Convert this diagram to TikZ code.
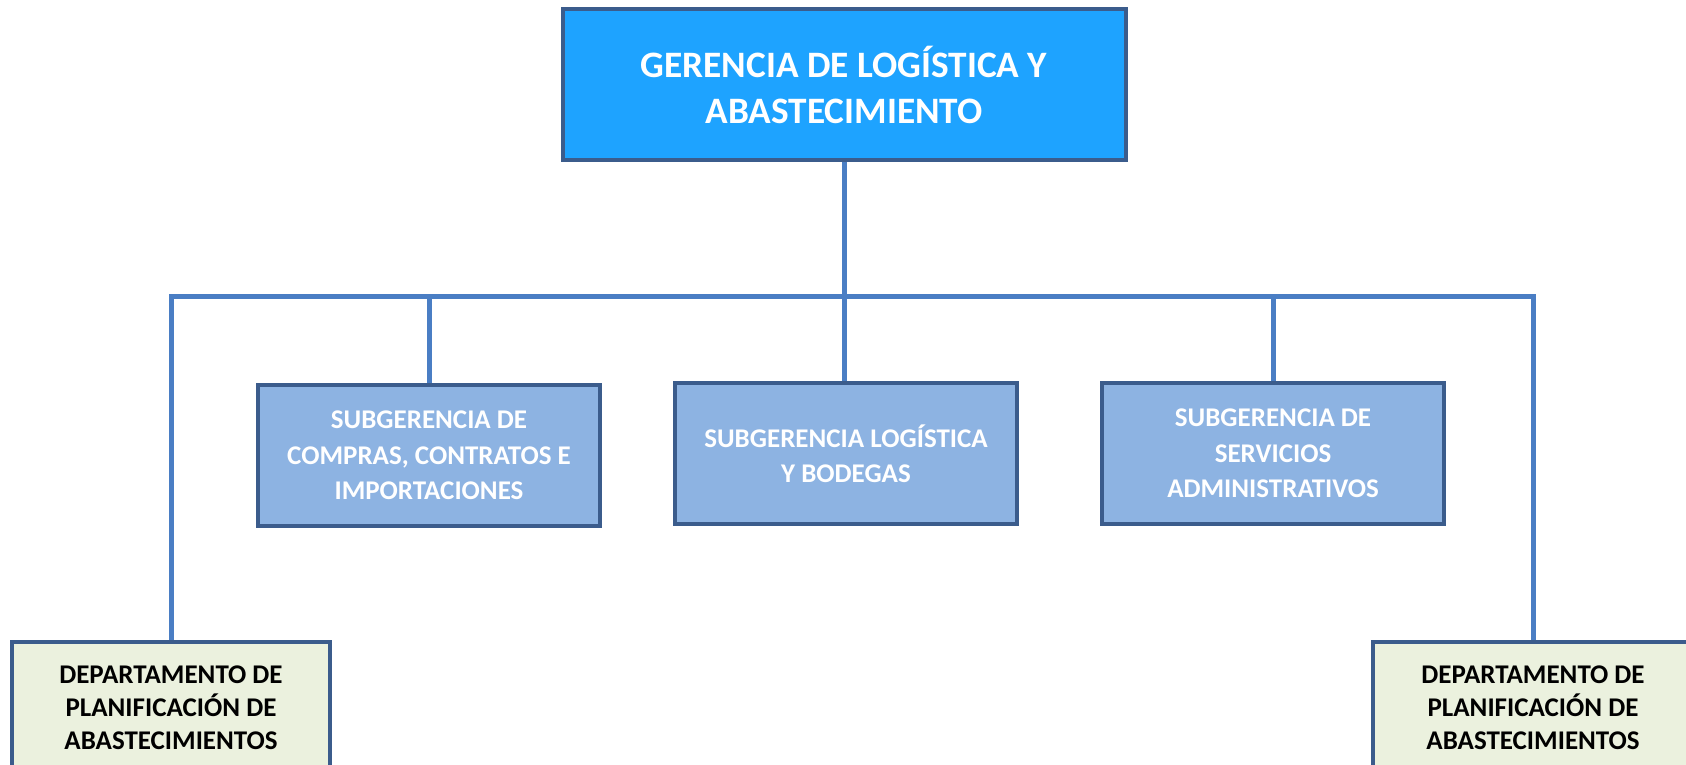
\documentclass[tikz,border=0pt]{standalone}
\usepackage{fontspec}
\setmainfont{Carlito}
\usetikzlibrary{backgrounds}

\definecolor{gerblue}{HTML}{1EA3FF}
\definecolor{subblue}{HTML}{8DB3E2}
\definecolor{depgreen}{HTML}{EBF1DE}
\definecolor{edgeblue}{HTML}{3B5C8C}
\definecolor{linkblue}{HTML}{4A7EC4}

\tikzset{
    box/.style={draw=edgeblue, line width=4pt, align=center, font=\bfseries},
    gerbox/.style={box, fill=gerblue, text=white, minimum width=563pt, minimum height=151pt,
        font=\fontsize{37.3}{46}\selectfont\bfseries},
    subbox/.style={box, fill=subblue, text=white, minimum width=342pt, minimum height=141pt,
        font=\fontsize{27}{35.5}\selectfont\bfseries},
    depbox/.style={box, fill=depgreen, text=black, minimum width=318pt, minimum height=132pt,
        font=\fontsize{27}{33}\selectfont\bfseries},
    link/.style={draw=linkblue, line width=5pt}
}

\begin{document}
\begin{tikzpicture}[x=1pt,y=-1pt]
    \useasboundingbox (0,0) rectangle (1686,765);
    \clip (0,0) rectangle (1686,765);
    % Boxes
    \node[gerbox] (ger) at (844,84.5) {GERENCIA DE LOGÍSTICA Y\\ABASTECIMIENTO};
    \node[subbox] (compras) at (429,455.5) {SUBGERENCIA DE\\COMPRAS, CONTRATOS E\\IMPORTACIONES};
    \node[subbox] (bodegas) at (846,453.5) {SUBGERENCIA LOGÍSTICA\\Y BODEGAS};
    \node[subbox] (servicios) at (1273,453.5) {SUBGERENCIA DE\\SERVICIOS\\ADMINISTRATIVOS};
    \node[depbox] (planizq) at (171,708) {DEPARTAMENTO DE\\PLANIFICACIÓN DE\\ABASTECIMIENTOS};
    \node[depbox, minimum width=320pt] (plander) at (1533,708) {DEPARTAMENTO DE\\PLANIFICACIÓN DE\\ABASTECIMIENTOS};
    % Connectors
    \coordinate (bus) at (844,296);
    \begin{pgfonlayer}{background}
        \fill[white] (0,0) rectangle (1686,765);
        \draw[link] (ger.south) -- (ger.south |- bodegas.north);
        \draw[link] (planizq.north) -- (planizq.north |- bus)
            -- (plander.north |- bus) -- (plander.north);
        \draw[link] (compras.north) -- (compras.north |- bus);
        \draw[link] (servicios.north) -- (servicios.north |- bus);
    \end{pgfonlayer}
\end{tikzpicture}
\end{document}
